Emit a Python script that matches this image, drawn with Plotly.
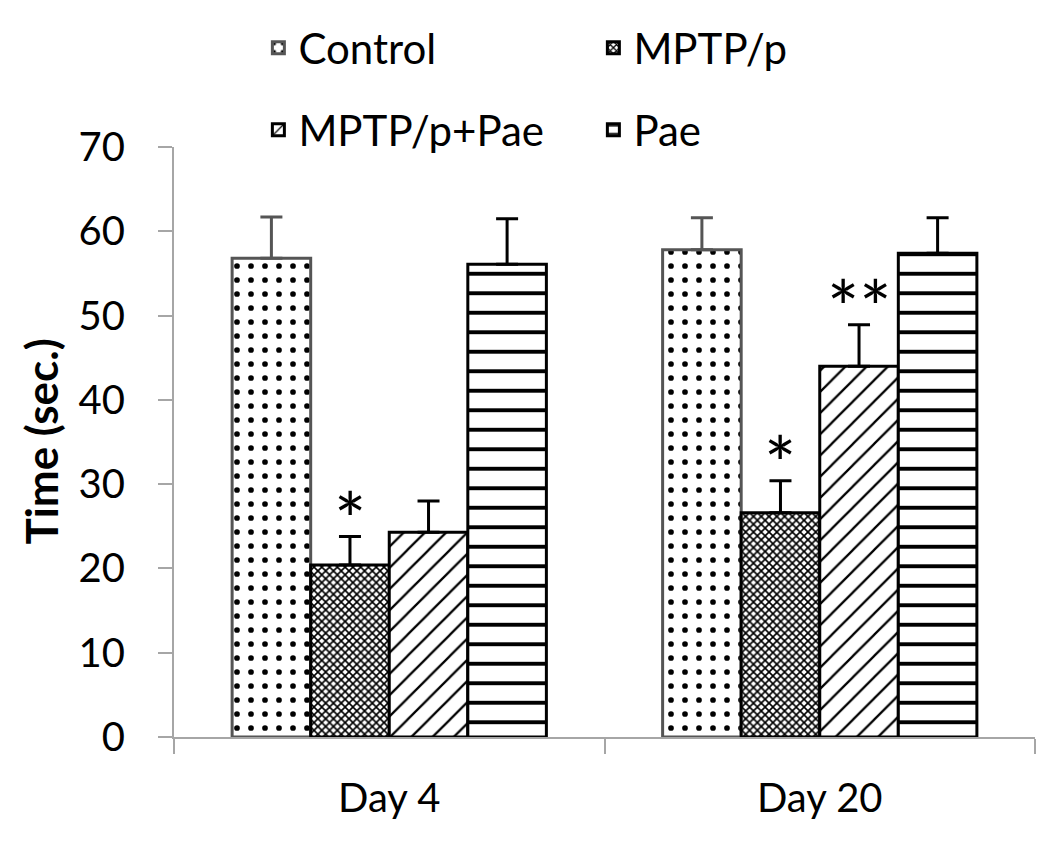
import plotly.graph_objects as go

days = ["Day 4", "Day 20"]
groups = ["Control", "MPTP/p", "MPTP/p+Pae", "Pae"]
means = {
    "Control": [56.8, 57.8],
    "MPTP/p": [20.4, 26.6],
    "MPTP/p+Pae": [24.3, 44.0],
    "Pae": [56.1, 57.4],
}
errors = {
    "Control": [4.9, 3.8],
    "MPTP/p": [3.4, 3.8],
    "MPTP/p+Pae": [3.7, 4.9],
    "Pae": [5.4, 4.2],
}
# significance marks: (group, day index, text)
marks = [("MPTP/p", 0, "*"), ("MPTP/p", 1, "*"), ("MPTP/p+Pae", 1, "**")]

FONT = "Lato"
bargap = 0.27

patterns = {
    "Control": dict(shape=".", size=14, solidity=0.13),
    "MPTP/p": dict(shape="x", size=5.5, solidity=0.5),
    "MPTP/p+Pae": dict(shape="/", size=15, solidity=0.15),
    "Pae": dict(shape="-", size=19.5, solidity=0.2),
}
for p in patterns.values():
    p.update(fgcolor="black", bgcolor="white", fgopacity=1)
edge = {"Control": "#555555", "MPTP/p": "black", "MPTP/p+Pae": "black", "Pae": "black"}
legend_of = {"Control": "legend", "MPTP/p": "legend", "MPTP/p+Pae": "legend2", "Pae": "legend2"}

fig = go.Figure()
for g in groups:
    fig.add_trace(go.Bar(
        name=g, x=days, y=means[g],
        marker=dict(color="white", pattern=patterns[g],
                    line=dict(color=edge[g], width=3)),
        error_y=dict(type="data", array=errors[g], arrayminus=[0, 0],
                     symmetric=False, color=edge[g], thickness=3, width=11),
        legend=legend_of[g],
    ))

# asterisk annotations above the error bars
bw = (1 - bargap) / len(groups)
for g, i, txt in marks:
    k = groups.index(g)
    xpos = i - (1 - bargap) / 2 + bw * (k + 0.5)
    fig.add_annotation(x=xpos, y=means[g][i] + errors[g][i], text=txt,
                       showarrow=False, yanchor="middle", yshift=18,
                       font=dict(family=FONT, size=76, color="black"))

# y-axis title
fig.add_annotation(xref="paper", yref="paper", x=-0.155, y=0.5,
                   xanchor="center", yanchor="middle",
                   text="<b>Time (sec.)</b>", textangle=-90, showarrow=False,
                   font=dict(family=FONT, size=44, color="black"))

legend_common = dict(orientation="h", xanchor="left", yanchor="middle",
                     font=dict(family=FONT, size=42, color="black"),
                     entrywidth=290, entrywidthmode="pixels",
                     bgcolor="rgba(0,0,0,0)", itemclick=False)

fig.update_layout(
    width=1063, height=849,
    margin=dict(l=166, r=36, t=139, b=120, autoexpand=False),
    paper_bgcolor="white", plot_bgcolor="white",
    barmode="group", bargap=bargap, bargroupgap=0,
    font=dict(family=FONT, color="black"),
    legend=dict(x=0.098, y=1.168, **legend_common),
    legend2=dict(x=0.098, y=1.029, **legend_common),
    xaxis=dict(showline=True, linecolor="#a6a6a6", linewidth=2,
               ticks="outside", tickson="boundaries", ticklen=15,
               tickcolor="#a6a6a6", tickwidth=2, ticklabelstandoff=25,
               automargin=False,
               tickfont=dict(family=FONT, size=40, color="black")),
    yaxis=dict(range=[0, 70], dtick=10, showgrid=False, zeroline=False,
               showline=True, linecolor="#a6a6a6", linewidth=2,
               ticks="outside", ticklen=14, tickcolor="#a6a6a6", tickwidth=2,
               ticklabelstandoff=25, automargin=False,
               tickfont=dict(family=FONT, size=40, color="black")),
)

fig.write_html("out.html")
